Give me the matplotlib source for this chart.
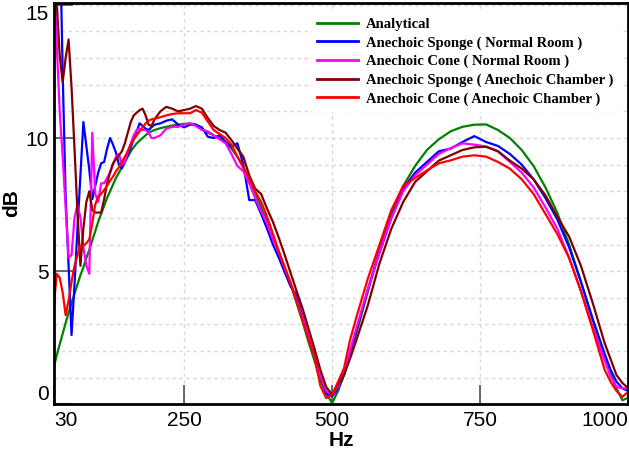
import matplotlib
matplotlib.use("Agg")
import matplotlib.pyplot as plt
from matplotlib.ticker import MultipleLocator

# frequency grid (Hz) and the five measured / computed curves (dB)
freq = [30, 35, 40, 45, 50, 55, 60, 65, 70, 75, 80, 85, 90, 95, 100, 105, 110, 115,
        120, 125, 130, 135, 140, 145, 150, 155, 160, 165, 170, 175, 180, 185, 190, 195, 200,
        210, 220, 230, 240, 250, 260, 270, 280, 290, 300, 310, 320, 330, 340, 350, 360,
        370, 380, 390, 400, 410, 420, 430, 440, 450, 460, 470, 480, 490, 500, 510, 520,
        530, 540,
        560, 580, 600, 620, 640, 660, 680, 700, 720, 740, 760, 780, 800, 820, 840, 860,
        880, 900, 920, 940, 960,
        970, 980, 990, 1000]

analytical = [1.4, 1.83, 2.25, 2.65, 3.05, 3.45, 3.8, 4.15, 4.5, 4.85, 5.15, 5.5, 5.8, 6.15,
              6.5, 6.85, 7.15, 7.45, 7.75, 8.0, 8.25, 8.5, 8.7, 8.9, 9.1, 9.3, 9.5, 9.65,
              9.8, 9.9, 10.0, 10.1, 10.2, 10.25, 10.3,
              10.37, 10.42, 10.47, 10.5, 10.53, 10.55, 10.5, 10.35, 10.2, 10.1, 9.98, 9.85,
              9.6, 9.3, 8.9, 8.45, 7.95, 7.4, 6.85, 6.3, 5.7, 5.1, 4.5, 3.8, 3.1, 2.35, 1.65,
              0.9, 0.4, 0.05, 0.5, 1.1, 1.8, 2.6,
              4.2, 5.85, 7.2, 8.2, 8.95, 9.55, 9.95, 10.25, 10.42, 10.5, 10.51, 10.3, 10.0,
              9.55, 8.95, 8.15, 7.2, 6.0, 4.6, 3.15, 1.8,
              1.15, 0.6, 0.15, 0.25]

sponge_normal = [17, 17.5, 18, 12.5, 7.8, 5.2, 2.6, 4.5, 6.6, 8.6, 10.6, 9.7, 8.8, 7.7, 8.2,
                 8.7, 9.05, 9.1, 9.6, 10.0, 9.75, 9.45, 9.0, 8.86, 9.1, 9.35, 9.65, 9.95,
                 10.25, 10.55, 10.45, 10.35, 10.3, 10.4, 10.5,
                 10.55, 10.65, 10.7, 10.5, 10.4, 10.5, 10.5, 10.4, 10.05, 10.0, 10.1, 9.85,
                 9.67, 9.8, 9.0, 7.67, 7.67, 7.15, 6.6, 6.0, 5.5, 4.95, 4.42, 4.1, 3.3, 2.6,
                 1.9, 1.15, 0.4, 0.3, 0.6, 1.1, 1.9, 2.7,
                 4.3, 5.7, 7.0, 8.1, 8.7, 9.1, 9.5, 9.6, 9.85, 10.07, 9.85, 9.7, 9.4, 9.0,
                 8.45, 7.75, 6.95, 5.9, 4.6, 3.2, 1.9,
                 1.3, 0.85, 0.6, 0.5]

cone_normal = [16.5, 13.5, 11.0, 9.3, 7.4, 5.5, 5.6, 7.0, 7.5, 7.0, 5.9, 5.2, 4.9, 10.2, 7.9,
               7.6, 8.3, 8.3, 8.5, 8.7, 9.0, 9.3, 9.4, 9.0, 9.1, 9.5, 9.8, 10.1, 10.3, 10.35,
               10.3, 10.3, 10.2, 10.0, 10.0,
               10.1, 10.35, 10.42, 10.42, 10.5, 10.55, 10.45, 10.3, 10.25, 10.1, 9.95, 9.8,
               9.4, 8.95, 8.75, 8.3, 7.75, 7.25, 6.8, 6.2, 5.7, 5.1, 4.55, 3.9, 3.25, 2.6,
               1.85, 1.1, 0.5, 0.38, 0.65, 1.2, 2.0, 2.8,
               4.3, 5.7, 7.0, 8.0, 8.6, 9.0, 9.4, 9.62, 9.8, 9.75, 9.68, 9.5, 9.1, 8.7, 8.15,
               7.4, 6.6, 5.5, 4.25, 2.9, 1.65,
               1.05, 0.65, 0.6, 0.6]

sponge_chamber = [18, 15.1, 13.1, 12.1, 13.0, 13.7, 11.9, 9.6, 7.2, 5.2, 6.6, 7.6, 8.0, 7.3,
                  7.2, 7.2, 7.2, 7.7, 8.3, 8.7, 9.05, 9.2, 9.35, 9.5, 9.8, 10.2, 10.6, 10.85,
                  10.95, 11.05, 11.1, 10.85, 10.5, 10.45, 10.7,
                  11.0, 11.17, 11.1, 11.0, 11.05, 11.1, 11.2, 11.1, 10.75, 10.45, 10.3, 10.2,
                  9.92, 9.6, 9.3, 8.6, 8.1, 7.9, 7.35, 6.85, 6.25, 5.6, 4.92, 4.25, 3.6, 2.85,
                  2.1, 1.3, 0.65, 0.36, 0.75, 1.1, 1.7, 2.35,
                  3.7, 5.3, 6.6, 7.6, 8.35, 8.75, 9.15, 9.35, 9.55, 9.65, 9.67, 9.5, 9.15,
                  8.85, 8.45, 7.85, 7.05, 6.3, 5.2, 3.8, 2.3,
                  1.7, 1.1, 0.8, 0.6]

cone_chamber = [3.66, 4.9, 4.75, 4.2, 3.35, 3.9, 4.6, 5.2, 5.6, 5.95, 5.95, 6.05, 6.2, 6.8,
                7.5, 7.8, 7.9, 8.05, 8.2, 8.4, 8.55, 8.75, 8.9, 9.1, 9.3, 9.5, 9.75, 9.95,
                10.1, 10.25, 10.4, 10.55, 10.65, 10.7, 10.72,
                10.78, 10.85, 10.9, 10.93, 10.93, 10.93, 11.05, 10.95, 10.62, 10.3, 10.15,
                10.0, 9.75, 9.3, 8.9, 8.5, 8.0, 7.6, 7.05, 6.4, 5.75, 5.15, 4.55, 3.85, 3.15,
                2.45, 1.8, 0.7, 0.23, 0.36, 0.85, 1.35, 2.4, 3.2,
                4.7, 6.0, 7.3, 8.2, 8.5, 8.78, 9.05, 9.16, 9.3, 9.35, 9.3, 9.1, 8.85, 8.45,
                7.9, 7.15, 6.4, 5.5, 4.25, 2.8, 1.3,
                0.85, 0.5, 0.28, 0.47]

labels = ["Analytical",
          "Anechoic Sponge ( Normal Room )",
          "Anechoic Cone ( Normal Room )",
          "Anechoic Sponge ( Anechoic Chamber )",
          "Anechoic Cone ( Anechoic Chamber )"]
colors = ["#008000", "#0000ff", "#ff00ff", "#800000", "#ff0000"]

plt.rcParams['font.family'] = ['Liberation Sans']

fig = plt.figure(figsize=(6.29, 4.54), dpi=100)
ax = fig.add_axes([0.0855, 0.1095, 0.9134, 0.8839])

for vals, col, lab in zip([analytical, sponge_normal, cone_normal, sponge_chamber, cone_chamber],
                          colors, labels):
    ax.plot(freq, vals, color=col, lw=1.6, label=lab)

ax.set_xlim(30, 1000)
ax.set_ylim(0, 15.07)
ax.set_xticks([30, 250, 500, 750, 1000])
ax.set_xticklabels(['30', '250', '500', '750', '1000'])
ax.set_yticks([0, 5, 10, 15])
ax.set_yticklabels(['0', '5', '10', '15'])
ax.yaxis.set_minor_locator(MultipleLocator(1))

ax.tick_params(which='major', direction='in', length=13.7, width=1.1, color='#404040',
               labelsize=15)
ax.tick_params(axis='x', pad=5)
ax.tick_params(axis='y', pad=3.5)
ax.tick_params(which='minor', length=0)

grid_kw = dict(color='#d8d8d8', lw=1.0, ls=(0, (2.5, 2.5)))
ax.grid(which='major', axis='x', **grid_kw)
ax.grid(which='both', axis='y', **grid_kw)
ax.set_axisbelow(True)

for sp in ax.spines.values():
    sp.set_linewidth(2.0)
    sp.set_color('black')

# end labels are pulled inside the axis range
ylabs = ax.get_yticklabels()
ylabs[0].set_va('bottom')
ylabs[-1].set_va('top')
xlabs = ax.get_xticklabels()
xlabs[0].set_ha('left')
xlabs[-1].set_ha('right')

fig.text(12 / 629, 1 - 203 / 454, 'dB', rotation=90, ha='center', va='center',
         fontsize=15, fontweight='bold')
fig.text(341 / 629, 1 - 440 / 454, 'Hz', ha='center', va='center',
         fontsize=15, fontweight='bold')

leg = ax.legend(loc='upper right', prop={'family': 'Liberation Serif', 'weight': 'bold',
                                         'size': 10.5},
                frameon=True, fancybox=False, framealpha=1, facecolor='white',
                edgecolor='none', handlelength=2.8, handletextpad=0.55,
                labelspacing=0.36, borderaxespad=0.6, borderpad=0.4)
for ln in leg.get_lines():
    ln.set_linewidth(2.0)

fig.savefig('out.png', dpi=100)
